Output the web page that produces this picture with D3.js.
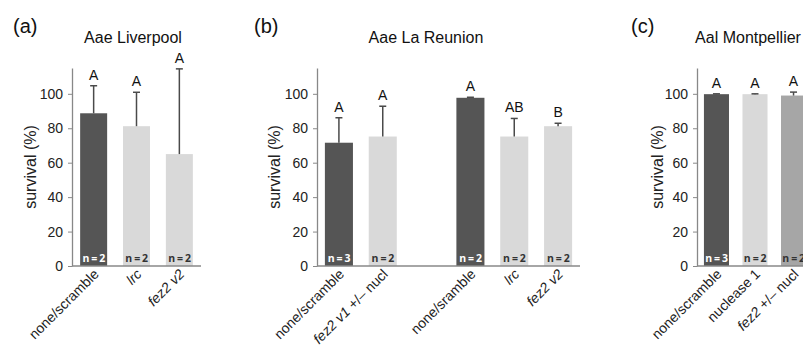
<!DOCTYPE html>
<html>
<head>
<meta charset="utf-8">
<title>survival by treatment</title>
<style>
  body { margin: 0; background: #fff; }
  svg { font-family: "Liberation Sans", Arial, sans-serif; }
</style>
</head>
<body>
<svg width="803" height="347"></svg>
<script src="https://d3js.org/d3.v7.min.js"></script>
<script>

// panel (a) Aae Liverpool
var catsA = ["none/scramble", "lrc", "fez2 v2"];
var survA = [88.7, 81.2, 65.0];
var errA = [16.0, 19.7, 49.5];
var lettersA = ["A", "A", "A"];
var nA = [2, 2, 2];
var toneA = ["dark", "light", "light"];

// panel (b) Aae La Reunion  ("" = empty slot between the two groups)
var catsB = ["none/scramble", "fez2 v1 +/\u2013 nucl", "", "none/sramble", "lrc", "fez2 v2"];
var survB = [71.6, 75.2, null, 97.7, 75.2, 81.2];
var errB = [14.5, 17.6, null, 0.3, 10.5, 1.7];
var lettersB = ["A", "A", "", "A", "AB", "B"];
var nB = [3, 2, null, 2, 2, 2];
var toneB = ["dark", "light", null, "dark", "light", "light"];

// panel (c) Aal Montpellier
var catsC = ["none/scramble", "nuclease 1", "fez2 +/\u2013 nucl"];
var survC = [99.8, 99.8, 99.0];
var errC = [0.2, 0.2, 2.0];
var lettersC = ["A", "A", "A"];
var nC = [3, 2, 2];
var toneC = ["dark", "light", "mid"];

var yTicks = [0, 20, 40, 60, 80, 100];

var fills = { dark: "#555555", light: "#d9d9d9", mid: "#a6a6a6" };
var nColor = { dark: "#ffffff", light: "#333333", mid: "#333333" };
var italicWords = ["fez2 v2", "fez2 v1", "fez2", "lrc"];

var svg = d3.select("svg");

var y = d3.scaleLinear()
    .domain([0, 115])
    .range([266, 68]);

function drawPanel(p) {
  var g = svg.append("g");

  var x = d3.scaleBand()
      .domain(d3.range(p.cats.length))
      .range([p.x0, p.x1])
      .paddingInner(p.padIn)
      .paddingOuter(p.padOut);

  // panel tag and title
  g.append("text")
      .attr("x", p.tagX).attr("y", 33)
      .attr("font-size", 20).attr("fill", "#111")
      .text(p.tag);
  g.append("text")
      .attr("x", p.titleX).attr("y", 43)
      .attr("text-anchor", "middle")
      .attr("font-size", 16).attr("fill", "#111")
      .text(p.title);

  // y axis
  var ax = g.append("g")
      .attr("transform", "translate(" + p.x0 + ",0)")
      .call(d3.axisLeft(y).tickValues(yTicks).tickSize(4).tickPadding(5).tickSizeOuter(0));
  ax.select(".domain").attr("stroke", "#888").attr("stroke-width", 1.3);
  ax.selectAll(".tick line").attr("stroke", "#888");
  ax.selectAll(".tick text")
      .attr("font-size", 14).attr("fill", "#222")
      .attr("font-family", "Liberation Sans, Arial, sans-serif");

  g.append("text")
      .attr("transform", "translate(" + p.labelX + ",167) rotate(-90)")
      .attr("text-anchor", "middle")
      .attr("dy", "0.35em")
      .attr("font-size", 16).attr("fill", "#222")
      .text("survival (%)");

  var idx = d3.range(p.cats.length).filter(function(i) { return p.vals[i] != null; });

  // bars
  g.selectAll("rect.bar")
    .data(idx)
    .enter().append("rect")
      .attr("class", "bar")
      .attr("x", function(i) { return x(i); })
      .attr("width", x.bandwidth())
      .attr("y", function(i) { return y(p.vals[i]); })
      .attr("height", function(i) { return y(0) - y(p.vals[i]); })
      .attr("fill", function(i) { return fills[p.tone[i]]; });

  // error bars (upper only)
  var cap = 3.5;
  idx.forEach(function(i) {
    var cx = x(i) + x.bandwidth() / 2;
    var top = y(p.vals[i] + p.errs[i]);
    g.append("line")
        .attr("x1", cx).attr("x2", cx)
        .attr("y1", y(p.vals[i])).attr("y2", top)
        .attr("stroke", "#4a4a4a").attr("stroke-width", 1.5);
    g.append("line")
        .attr("x1", cx - cap).attr("x2", cx + cap)
        .attr("y1", top).attr("y2", top)
        .attr("stroke", "#4a4a4a").attr("stroke-width", 1.5);
    g.append("text")
        .attr("x", cx).attr("y", top - 6)
        .attr("text-anchor", "middle")
        .attr("font-size", 14).attr("fill", "#111")
        .text(p.letters[i]);
    g.append("text")
        .attr("x", cx).attr("y", 262)
        .attr("text-anchor", "middle")
        .attr("font-family", "Open Sans, sans-serif")
        .attr("font-weight", "bold")
        .attr("font-size", 10.5)
        .attr("letter-spacing", -0.4)
        .attr("fill", nColor[p.tone[i]])
        .text("n = " + p.n[i]);
  });

  // x axis line
  g.append("line")
      .attr("x1", p.x0).attr("x2", p.x1)
      .attr("y1", y(0)).attr("y2", y(0))
      .attr("stroke", "#888").attr("stroke-width", 1.3);

  // rotated category labels
  idx.forEach(function(i) {
    var cx = x(i) + x.bandwidth() / 2;
    var t = g.append("text")
        .attr("transform", "translate(" + (cx + 6) + ",275) rotate(-45)")
        .attr("text-anchor", "end")
        .attr("font-size", 14).attr("fill", "#222");
    var label = p.cats[i];
    var word = italicWords.find(function(w) { return label.indexOf(w) === 0; });
    if (word) {
      t.append("tspan").attr("font-style", "italic").text(word);
      t.append("tspan").text(label.slice(word.length));
    } else {
      t.text(label);
    }
  });
}

drawPanel({
  tag: "(a)", tagX: 13, title: "Aae Liverpool", titleX: 133, labelX: 30,
  x0: 72, x1: 201, padIn: 0.37, padOut: 0.19,
  cats: catsA, vals: survA, errs: errA, letters: lettersA, n: nA, tone: toneA
});

drawPanel({
  tag: "(b)", tagX: 254, title: "Aae La Reunion", titleX: 426, labelX: 274,
  x0: 317, x1: 580, padIn: 0.36, padOut: 0.18,
  cats: catsB, vals: survB, errs: errB, letters: lettersB, n: nB, tone: toneB
});

drawPanel({
  tag: "(c)", tagX: 631, title: "Aal Montpellier", titleX: 748, labelX: 657,
  x0: 697, x1: 813, padIn: 0.35, padOut: 0.18,
  cats: catsC, vals: survC, errs: errC, letters: lettersC, n: nC, tone: toneC
});

</script>
</body>
</html>
